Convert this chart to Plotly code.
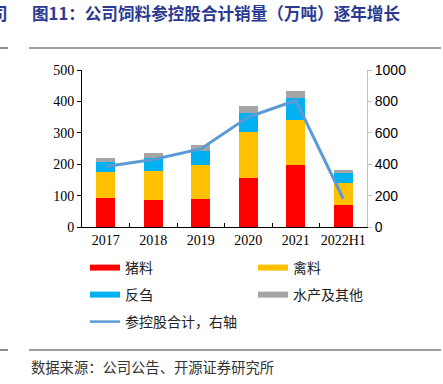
import plotly.graph_objects as go

categories = ["2017", "2018", "2019", "2020", "2021", "2022H1"]
pig_feed = [92, 85, 90, 155, 197, 69]
poultry_feed = [82, 94, 108, 146, 144, 71]
ruminant_feed = [32, 41, 45, 63, 71, 31]
aqua_other = [15, 16, 19, 22, 22, 9]
total_right = [386, 430, 497, 700, 806, 180]

left_ticks = [0, 100, 200, 300, 400, 500]
right_ticks = [0, 200, 400, 600, 800, 1000]

W, H = 443, 384
L, R, T, B = 82, 76, 70, 157
PW, PH = W - L - R, H - T - B

def px(x):
    return (x - L) / PW

def py(y):
    return (H - B - y) / PH

colors = {"猪料": "#FF0000", "禽料": "#FFC000", "反刍": "#00B0F0", "水产及其他": "#A5A5A5"}
series = [("猪料", pig_feed), ("禽料", poultry_feed), ("反刍", ruminant_feed), ("水产及其他", aqua_other)]
line_name = "参控股合计，右轴"
line_color = "#5B9BD5"

fig = go.Figure()
for name, vals in series:
    fig.add_trace(go.Bar(x=categories, y=vals, name=name, marker_color=colors[name],
                         marker_line_width=0, width=0.4, showlegend=False))

fig.add_trace(go.Scatter(x=categories, y=total_right, name=line_name, mode="lines",
                         line=dict(color=line_color, width=3), yaxis="y2", showlegend=False))

# legend placement (px of item left, row center)
legend_pos = {"猪料": ("legend", 85, 268), "禽料": ("legend2", 253, 268),
              "反刍": ("legend3", 85, 295), "水产及其他": ("legend4", 253, 295),
              line_name: ("legend5", 85, 322)}

for name, _ in series:
    fig.add_trace(go.Scatter(x=[None], y=[None], mode="lines", name=name,
                             line=dict(color=colors[name], width=6), legend=legend_pos[name][0]))
fig.add_trace(go.Scatter(x=[None], y=[None], mode="lines", name=line_name,
                         line=dict(color=line_color, width=2.5), legend=legend_pos[line_name][0]))

leg_layout = {}
for name, (lid, lx, ly) in legend_pos.items():
    leg_layout[lid] = dict(orientation="h", xanchor="left", yanchor="middle",
                           x=px(lx), y=py(ly), bgcolor="rgba(0,0,0,0)",
                           font=dict(family="Noto Sans CJK SC", size=14, color="#222"))

title_color = "#2B3990"
fig.update_layout(
    width=W, height=H,
    margin=dict(l=L, r=R, t=T, b=B),
    paper_bgcolor="white", plot_bgcolor="white",
    barmode="stack", bargap=0.6,
    showlegend=True,
    xaxis=dict(type="category", showline=True, linecolor="#000", linewidth=1,
               ticks="inside", tickson="boundaries", ticklen=4, tickcolor="#000",
               tickangle=0,
               tickfont=dict(family="Liberation Serif", size=14, color="#000"),
               showgrid=False, fixedrange=True),
    yaxis=dict(range=[0, 500], tickvals=left_ticks, showline=True, linecolor="#000",
               linewidth=1, ticks="outside", ticklen=4, tickcolor="#000", showgrid=False,
               zeroline=False, tickfont=dict(family="Liberation Serif", size=14, color="#000")),
    yaxis2=dict(range=[0, 1000], tickvals=right_ticks, overlaying="y", side="right",
                showline=True, linecolor="#BFBFBF", linewidth=1, ticks="outside", ticklen=4,
                tickcolor="#BFBFBF", showgrid=False, zeroline=False,
                tickfont=dict(family="Liberation Sans", size=14, color="#000"),
                ticklabelstandoff=0),
    **leg_layout,
)

shapes = []
for (x0, x1, y) in [(29, 441, 48), (0, 8, 48), (29, 441, 350), (0, 8, 350)]:
    shapes.append(dict(type="line", xref="paper", yref="paper", x0=px(x0), x1=px(x1),
                       y0=py(y), y1=py(y), line=dict(color="#404040", width=1.2)))
fig.update_layout(shapes=shapes)

fig.add_annotation(text="图11：公司饲料参控股合计销量（万吨）逐年增长", xref="paper", yref="paper",
                   x=px(30), y=py(13), xanchor="left", yanchor="middle", showarrow=False,
                   font=dict(family="Noto Sans CJK SC", size=16.6, color=title_color, weight="bold"))
fig.add_annotation(text="司", xref="paper", yref="paper", x=px(10), y=py(13),
                   xanchor="right", yanchor="middle", showarrow=False,
                   font=dict(family="Noto Sans CJK SC", size=16.6, color=title_color, weight="bold"))
fig.add_annotation(text="数据来源：公司公告、开源证券研究所", xref="paper", yref="paper",
                   x=px(29), y=py(366), xanchor="left", yanchor="middle", showarrow=False,
                   font=dict(family="Noto Sans CJK SC", size=14.3, color="#333"))

fig.write_html("out.html", config={"displayModeBar": False},
               post_script="document.body.style.margin='0';")
